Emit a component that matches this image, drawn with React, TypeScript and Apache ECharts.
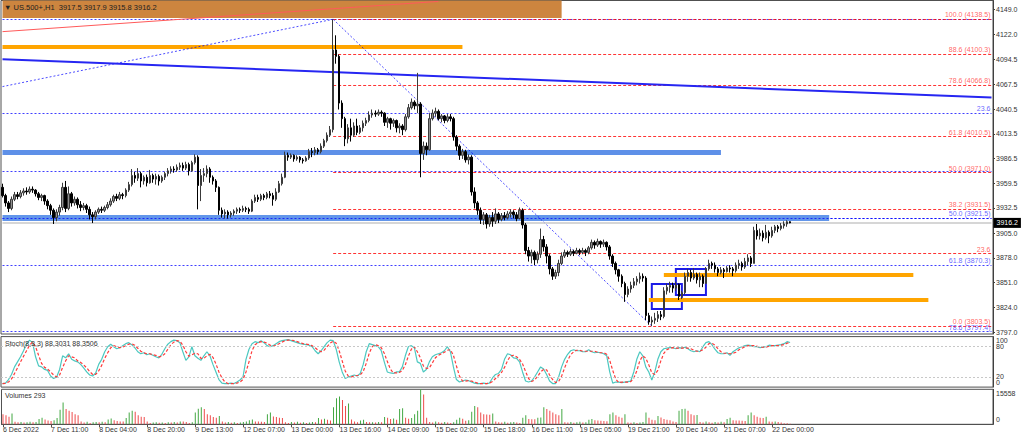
import React, { useEffect, useRef } from 'react';
import * as echarts from 'echarts';

const FONT = '"Liberation Sans", Arial, sans-serif';

const tickLabels = ['6 Dec 2022', '7 Dec 11:00', '8 Dec 04:00', '8 Dec 20:00', '9 Dec 13:00', '12 Dec 07:00', '13 Dec 00:00', '13 Dec 16:00', '14 Dec 09:00', '15 Dec 02:00', '15 Dec 18:00', '16 Dec 11:00', '19 Dec 05:00', '19 Dec 21:00', '20 Dec 14:00', '21 Dec 07:00', '22 Dec 00:00'];
const SLOT_COUNT = 330;
const LABEL_EVERY = 16;

const priceTicks = [4149.0, 4122.0, 4094.5, 4067.5, 4040.5, 4013.5, 3986.5, 3959.5, 3932.5, 3905.0, 3878.0, 3851.0, 3824.0, 3797.0];
const stochTicks = [100, 80, 20, 0];
const volumeTicks = [15558, 0];

const firstOpen = 3955;
const closes = [3946, 3938, 3932, 3942, 3947, 3945, 3949, 3951, 3950, 3953, 3952, 3948, 3944, 3946, 3940, 3935, 3930, 3922, 3928, 3933,
  3955, 3932, 3948, 3938, 3942, 3936, 3933, 3935, 3931, 3925, 3923, 3928, 3931, 3930, 3933, 3936, 3940, 3945, 3943, 3947,
  3946, 3952, 3958, 3968, 3965, 3970, 3962, 3966, 3960, 3968, 3964, 3967, 3962, 3966, 3970, 3973, 3975, 3974, 3977, 3979,
  3976, 3980, 3973, 3982, 3988, 3957, 3968, 3970, 3975, 3966, 3962, 3955, 3930, 3926, 3928, 3925, 3927, 3929, 3931, 3930,
  3932, 3931, 3929, 3940, 3944, 3942, 3946, 3944, 3948, 3946, 3942, 3950, 3959, 3966, 3990, 3988, 3990, 3986, 3988, 3985,
  3984, 3987, 3994, 3993, 3996, 3994, 4000, 4006, 4012, 4018, 4105, 4098, 4047, 4030, 4008, 4020, 4012, 4022, 4015, 4020,
  4025, 4028, 4034, 4036, 4035, 4037, 4036, 4026, 4030, 4025, 4028, 4020, 4022, 4018, 4032, 4042, 4048, 4044, 4046, 3992,
  4000, 3996, 4030, 4036, 4038, 4030, 4033, 4028, 4032, 4030, 4010, 4000, 3990, 3994, 3985, 3988, 3950, 3938, 3930, 3920,
  3925, 3915, 3922, 3918, 3926, 3920, 3924, 3922, 3926, 3928, 3925, 3921, 3930, 3914, 3886, 3880, 3884, 3876, 3882, 3898,
  3890, 3880, 3866, 3858, 3862, 3872, 3880, 3884, 3882, 3885, 3883, 3886, 3884, 3886, 3884, 3889, 3895, 3892, 3896, 3893,
  3895, 3890, 3880, 3872, 3865, 3858, 3850, 3838, 3844, 3848, 3852, 3855, 3858, 3856, 3815, 3808, 3810, 3812, 3816, 3814,
  3842, 3846, 3848, 3845, 3849, 3836, 3840, 3858, 3862, 3856, 3860, 3854, 3858, 3850, 3866, 3872, 3870, 3866, 3862, 3865,
  3863, 3867, 3866, 3864, 3870, 3872, 3868, 3874, 3878, 3872, 3908, 3902, 3905, 3900, 3906, 3902, 3908, 3912, 3910, 3913,
  3915, 3917.5, 3916.2];
const lows = [3944, 3934, 3928, 3930, 3940, 3942, 3943, 3946, 3947, 3948, 3949, 3945, 3941, 3940, 3936, 3931, 3925, 3915, 3918, 3924,
  3930, 3928, 3930, 3934, 3935, 3932, 3929, 3930, 3927, 3920, 3916, 3920, 3926, 3927, 3928, 3931, 3934, 3938, 3940, 3941,
  3942, 3944, 3950, 3956, 3960, 3962, 3955, 3958, 3956, 3959, 3960, 3958, 3957, 3960, 3963, 3967, 3970, 3971, 3972, 3974,
  3973, 3974, 3968, 3972, 3980, 3931, 3940, 3961, 3966, 3960, 3958, 3950, 3925, 3922, 3921, 3921, 3922, 3924, 3926, 3927,
  3928, 3928, 3926, 3928, 3938, 3939, 3940, 3941, 3942, 3943, 3935, 3940, 3949, 3957, 3965, 3984, 3986, 3983, 3984, 3982,
  3981, 3983, 3985, 3988, 3990, 3991, 3992, 3998, 4004, 4010, 4015, 4090, 4040, 4020, 4000, 4003, 4005, 4010, 4012, 4013,
  4016, 4022, 4026, 4031, 4032, 4033, 4032, 4022, 4020, 4018, 4021, 4015, 4014, 4012, 4016, 4030, 4040, 4040, 4036, 3966,
  3985, 3990, 3995, 4028, 4032, 4028, 4026, 4025, 4026, 4027, 4006, 3995, 3985, 3986, 3982, 3980, 3946, 3932, 3925, 3915,
  3914, 3910, 3912, 3912, 3915, 3916, 3918, 3919, 3920, 3922, 3921, 3918, 3920, 3910, 3882, 3874, 3872, 3870, 3872, 3878,
  3885, 3872, 3860, 3854, 3855, 3858, 3870, 3878, 3879, 3880, 3880, 3882, 3881, 3882, 3880, 3882, 3887, 3888, 3890, 3889,
  3890, 3886, 3876, 3868, 3860, 3852, 3846, 3830, 3835, 3840, 3845, 3848, 3850, 3852, 3810, 3805, 3803.5, 3806, 3808, 3810,
  3812, 3838, 3840, 3840, 3842, 3832, 3833, 3838, 3852, 3852, 3854, 3850, 3846, 3846, 3850, 3864, 3866, 3862, 3858, 3860,
  3856, 3862, 3862, 3858, 3862, 3866, 3864, 3866, 3870, 3868, 3872, 3898, 3898, 3896, 3898, 3894, 3900, 3905, 3906, 3908,
  3910, 3912, 3915.8];
const highs = [3959, 3948, 3940, 3945, 3950, 3950, 3952, 3954, 3955, 3956, 3956, 3953, 3950, 3948, 3947, 3942, 3937, 3932, 3931, 3936,
  3960, 3962, 3956, 3950, 3945, 3944, 3940, 3938, 3937, 3934, 3928, 3930, 3933, 3934, 3935, 3939, 3943, 3947, 3948, 3950,
  3949, 3954, 3961, 3975, 3972, 3976, 3972, 3968, 3969, 3974, 3970, 3970, 3969, 3968, 3972, 3976, 3978, 3978, 3980, 3982,
  3982, 3983, 3982, 3984, 3991, 3990, 3975, 3976, 3979, 3977, 3968, 3964, 3956, 3933, 3931, 3930, 3929, 3931, 3933, 3933,
  3935, 3934, 3933, 3942, 3947, 3947, 3948, 3948, 3950, 3951, 3949, 3954, 3962, 3970, 3994, 3993, 3992, 3991, 3990, 3989,
  3987, 3989, 3997, 3998, 3999, 3998, 4003, 4008, 4015, 4022, 4138.5, 4121, 4100, 4050, 4032, 4024, 4030, 4026, 4030, 4023,
  4028, 4031, 4038, 4040, 4039, 4040, 4039, 4037, 4032, 4031, 4030, 4029, 4025, 4024, 4035, 4046, 4052, 4050, 4080, 4048,
  4005, 4004, 4036, 4040, 4042, 4040, 4035, 4034, 4035, 4035, 4032, 4012, 4002, 3997, 3996, 3991, 3990, 3955, 3940, 3933,
  3928, 3927, 3925, 3928, 3932, 3928, 3927, 3928, 3929, 3931, 3930, 3928, 3933, 3932, 3916, 3890, 3887, 3886, 3885, 3910,
  3902, 3893, 3882, 3868, 3865, 3876, 3884, 3887, 3886, 3888, 3887, 3889, 3888, 3889, 3888, 3891, 3898, 3897, 3899, 3897,
  3898, 3896, 3892, 3882, 3874, 3866, 3860, 3852, 3847, 3852, 3856, 3858, 3862, 3861, 3858, 3818, 3814, 3818, 3820, 3820,
  3846, 3850, 3852, 3851, 3852, 3850, 3842, 3862, 3866, 3865, 3867, 3862, 3862, 3860, 3868, 3876, 3874, 3873, 3868, 3868,
  3867, 3869, 3870, 3868, 3873, 3876, 3874, 3878, 3882, 3880, 3912, 3915, 3910, 3908, 3914, 3908, 3912, 3914, 3914, 3916,
  3918, 3919, 3917.9];

const stochK = [7, 8, 15, 25, 40, 50, 60, 72, 85, 93, 88, 60, 42, 40, 35, 33, 22, 17, 20, 35,
  62, 58, 66, 55, 52, 50, 45, 38, 30, 24, 22, 28, 45, 55, 70, 80, 85, 80, 76, 78,
  82, 86, 88, 84, 78, 70, 66, 68, 64, 66, 63, 60, 58, 65, 76, 85, 90, 93, 92, 88,
  70, 53, 60, 80, 62, 57, 53, 62, 70, 62, 45, 30, 15, 8, 7, 7, 8, 7, 10, 14,
  20, 55, 75, 86, 90, 88, 92, 88, 82, 80, 82, 86, 90, 92, 93, 94, 92, 90, 88, 86,
  85, 84, 83, 80, 72, 66, 72, 80, 88, 93, 92, 75, 50, 30, 17, 20, 22, 24, 22, 27,
  45, 70, 86, 84, 82, 80, 72, 50, 30, 28, 27, 30, 30, 40, 62, 80, 82, 78, 50, 47,
  30, 35, 50, 60, 64, 66, 68, 72, 80, 70, 40, 15, 10, 12, 14, 13, 10, 8, 7, 7,
  8, 7, 8, 18, 25, 27, 35, 55, 66, 64, 58, 57, 50, 30, 12, 10, 12, 20, 30, 40,
  36, 25, 12, 7, 7, 20, 40, 55, 65, 72, 74, 72, 72, 70, 70, 74, 70, 68, 69, 68,
  66, 62, 30, 8, 10, 10, 9, 10, 11, 12, 30, 55, 70, 62, 40, 30, 14, 30, 55, 70,
  76, 77, 78, 78, 76, 78, 77, 79, 76, 72, 70, 72, 70, 80, 88, 90, 84, 75, 68, 66,
  66, 68, 63, 70, 74, 78, 80, 82, 83, 82, 80, 80, 78, 79, 80, 83, 82, 82, 83, 84,
  86, 90, 88.3031];
const stochD = [7, 7.5, 10, 16, 27, 38, 50, 61, 72, 83, 89, 80, 63, 47, 39, 36, 30, 24, 20, 24,
  39, 52, 62, 60, 58, 52, 49, 44, 38, 31, 25, 25, 32, 43, 57, 68, 78, 82, 80, 78,
  79, 82, 85, 86, 83, 77, 71, 68, 66, 66, 64, 63, 60, 61, 66, 75, 84, 89, 92, 91,
  83, 70, 61, 64, 67, 66, 57, 57, 62, 65, 59, 46, 30, 18, 10, 7, 7, 7, 8, 10,
  15, 30, 50, 72, 84, 88, 90, 89, 87, 83, 81, 83, 86, 89, 92, 93, 93, 92, 90, 88,
  86, 85, 84, 82, 78, 73, 70, 73, 80, 87, 91, 87, 72, 52, 32, 22, 20, 22, 23, 24,
  31, 47, 67, 80, 84, 82, 78, 67, 51, 36, 28, 28, 29, 33, 44, 61, 75, 80, 70, 58,
  42, 37, 38, 48, 58, 63, 66, 69, 73, 74, 63, 42, 22, 12, 12, 13, 12, 10, 8, 7,
  7, 7, 8, 11, 17, 23, 29, 39, 52, 62, 63, 60, 55, 46, 31, 17, 11, 14, 21, 30,
  35, 34, 24, 15, 9, 11, 22, 38, 53, 64, 70, 73, 73, 71, 71, 71, 71, 71, 69, 68,
  68, 65, 53, 33, 16, 9, 10, 10, 10, 11, 18, 32, 52, 62, 57, 44, 28, 25, 33, 52,
  67, 74, 77, 78, 77, 77, 77, 78, 77, 76, 73, 71, 71, 74, 79, 86, 87, 83, 76, 70,
  67, 67, 66, 67, 69, 74, 77, 80, 82, 82, 82, 81, 79, 79, 79, 81, 82, 82, 82, 83,
  84, 87, 88.3506];

const volumes = [4450, 3975, 3340, 4770, 1100, 900, 1000, 800, 950, 1100, 900, 1000, 2400, 2900, 2100, 1700, 1500, 1800, 2800, 6500,
  9700, 6800, 6000, 5500, 4500, 4000, 1300, 800, 1100, 600, 900, 1000, 900, 1100, 950, 2100, 2600, 1750, 1500, 1300,
  1200, 2800, 5200, 6000, 5600, 4000, 3400, 3300, 1300, 600, 800, 900, 700, 800, 600, 900, 750, 1000, 800, 1300,
  1200, 1000, 600, 900, 5200, 6900, 7600, 6800, 4500, 4000, 3300, 2900, 3650, 1200, 800, 1000, 700, 900, 600, 800,
  1000, 1300, 1800, 2100, 1300, 1200, 1100, 1000, 4500, 5200, 3500, 3300, 2900, 2800, 900, 600, 1000, 800, 1100, 700,
  900, 600, 800, 1000, 900, 2800, 2100, 2500, 2000, 1700, 7600, 11600, 12400, 10800, 8100, 9200, 2100, 1300, 900, 1700,
  2000, 1000, 900, 950, 800, 1000, 900, 3300, 2860, 2400, 2550, 2070, 6840, 7150, 2900, 2500, 2800, 4450, 6000, 15558,
  13200, 2860, 1000, 800, 1200, 900, 700, 1000, 800, 600, 900, 2070, 2860, 2500, 1600, 1750, 5560, 8110, 7630, 5250,
  4450, 4400, 4300, 4800, 1200, 900, 800, 1100, 700, 900, 1000, 800, 600, 2860, 3975, 2400, 2300, 2200, 2860, 3000,
  7630, 6840, 6040, 5250, 4450, 4000, 6840, 950, 800, 1000, 700, 900, 1100, 800, 900, 2070, 2400, 1750, 1700, 1600,
  1500, 1400, 4450, 5250, 3975, 3340, 2860, 4450, 800, 700, 900, 600, 800, 1000, 5250, 2860, 2070, 1800, 3660, 3000,
  2385, 2000, 1750, 1270, 1000, 6040, 6840, 6900, 6040, 4450, 3975, 4100, 1000, 800, 1200, 900, 700, 1000, 800, 1100,
  900, 2385, 2860, 1750, 1700, 1650, 1600, 1500, 3975, 5250, 4000, 3340, 2860, 2800, 3340, 1270, 1100, 1300, 1000, 800,
  500, 480, 293];

// Fibonacci levels: [label, price]
const redFibLevels: [string, number][] = [
  ['100.0 (4138.5)', 4138.5], ['88.6 (4100.3)', 4100.3], ['78.6 (4066.8)', 4066.8], ['61.8 (4010.5)', 4010.5],
  ['50.0 (3971.0)', 3971.0], ['38.2 (3931.5)', 3931.5], ['23.6', 3882.6], ['0.0 (3803.5)', 3803.5]];
const blueFibLevels: [string, number][] = [
  ['', 4138.5], ['23.6', 4036.0], ['', 3972.7], ['50.0 (3921.5)', 3921.5], ['61.8 (3870.3)', 3870.3], ['78.6 (3797.4)', 3797.4]];

const lastPrice = 3916.2;
const titleText = '▼ US.500+,H1  3917.5 3917.9 3915.8 3916.2';
const stochTitle = 'Stoch(8,3,3) 88.3031 88.3506';
const volumeTitle = 'Volumes 293';

const RED_LINE = '#FF0000';
const RED_TEXT = '#FF3C3C';
const BLUE_DOT = '#0000FF';
const BLUE_TEXT = '#3030FF';

function seg(x1: number, p1: number, x2: number, p2: number, lineStyle: any, label?: any) {
  return [
    { coord: [x1, p1], lineStyle, label: label || { show: false } },
    { coord: [x2, p2] },
  ];
}

function fibLabel(text: string, color: string) {
  if (!text) return { show: false };
  return {
    show: true, position: 'insideEndTop', formatter: text, color, fontSize: 7, fontFamily: FONT, distance: [1, 1],
  };
}

export default function App() {
  const ref = useRef<HTMLDivElement>(null);
  useEffect(() => {
    if (!ref.current) return;
    const chart = echarts.init(ref.current, undefined, { renderer: 'svg', width: 1024, height: 440 });
    const slots = Array.from({ length: SLOT_COUNT }, (_, i) => String(i));
    const candleData = closes.map((c, i) => [i === 0 ? firstOpen : closes[i - 1], c, lows[i], highs[i]]);
    const volData = volumes.map((v, i) => ({
      value: v,
      itemStyle: { color: i > 0 && v > volumes[i - 1] ? '#43A843' : '#EE4B4B' },
    }));
    const lastIdx = SLOT_COUNT - 1;

    const markLines: any[] = [];
    blueFibLevels.forEach(([t, p]) => {
      markLines.push(seg(0, p, lastIdx, p, { color: BLUE_DOT, width: 1, type: [2, 2], opacity: 0.75 }, fibLabel(t, BLUE_TEXT)));
    });
    redFibLevels.forEach(([t, p]) => {
      markLines.push(seg(110, p, lastIdx, p, { color: RED_LINE, width: 1, type: [3, 2], opacity: 0.8 }, fibLabel(t, RED_TEXT)));
    });
    // bands and drawn lines
    markLines.push(seg(0, 4108.3, 153, 4108.3, { color: '#FFA500', width: 4, type: 'solid' }));
    markLines.push(seg(0, 3993.1, 239, 3993.1, { color: '#5E90E8', width: 5, type: 'solid' }));
    markLines.push(seg(0, 3921.5, 275, 3921.5, { color: '#6296EA', width: 6, type: 'solid' }));
    markLines.push(seg(0, 3921.5, lastIdx, 3921.5, { color: BLUE_DOT, width: 1, type: [2, 2], opacity: 0.75 }));
    markLines.push(seg(220, 3859.1, 303, 3859.1, { color: '#FFA500', width: 4, type: 'solid' }));
    markLines.push(seg(215, 3832.0, 308, 3832.0, { color: '#FFA500', width: 4, type: 'solid' }));
    // trend lines
    markLines.push(seg(0, 4065.0, 110, 4138.5, { color: BLUE_DOT, width: 1, type: [2, 2], opacity: 0.7 }));
    markLines.push(seg(110, 4138.5, 216, 3803.5, { color: BLUE_DOT, width: 1, type: [2, 2], opacity: 0.7 }));
    markLines.push(seg(0, 4125.0, 145, 4158.0, { color: '#FF5A5A', width: 1, type: 'solid' }));
    markLines.push(seg(0, 4094.8, lastIdx, 4053.0, { color: '#2626F2', width: 2, type: 'solid' }));
    // bid line
    markLines.push(seg(0, lastPrice, lastIdx, lastPrice, { color: '#C8C8C8', width: 1.5, type: 'solid' }, {
      show: true, position: 'end', formatter: lastPrice.toFixed(1), color: '#fff', backgroundColor: '#000',
      fontSize: 7, fontFamily: FONT, padding: [2, 3, 1, 3], distance: 2,
    }));

    const gridBase = { left: 1, right: 31, show: true, borderColor: '#505050', borderWidth: 1 };
    const hiddenX = (gi: number) => ({ type: 'category', gridIndex: gi, data: slots, boundaryGap: true, show: false });
    const labelInterval = (idx: number) => idx % LABEL_EVERY === 0 && idx / LABEL_EVERY < tickLabels.length;
    const plainY = (gi: number, min: number, max: number) => ({
      type: 'value', gridIndex: gi, position: 'right', min, max,
      splitLine: { show: false }, axisTick: { show: false }, axisLabel: { show: false },
      axisLine: { show: true, lineStyle: { color: '#404040' } },
    });

    const baseGraphic: any[] = [
      { id: 'ttl', type: 'text', x: 4, y: 7.5, z: 100, style: { text: titleText, fill: '#222', font: '7.5px ' + FONT, verticalAlign: 'middle' } },
      { id: 'stt', type: 'text', x: 5, y: 343.5, z: 100, style: { text: stochTitle, fill: '#333', font: '7px ' + FONT, verticalAlign: 'middle' } },
      { id: 'vtt', type: 'text', x: 5, y: 395.5, z: 100, style: { text: volumeTitle, fill: '#333', font: '7px ' + FONT, verticalAlign: 'middle' } },
    ];

    const option: any = {
      animation: false,
      backgroundColor: '#ffffff',
      textStyle: { fontFamily: FONT },
      grid: [
        { ...gridBase, top: 0.5, height: 333.5 },
        { ...gridBase, top: 336.6, height: 50.5 },
        { ...gridBase, top: 389.3, height: 35 },
      ],
      xAxis: [
        hiddenX(0),
        hiddenX(1),
        {
          type: 'category', gridIndex: 2, data: slots, boundaryGap: true,
          axisLine: { show: true, lineStyle: { color: '#505050' } },
          axisTick: { show: true, interval: labelInterval, alignWithLabel: true, length: 3, lineStyle: { color: '#505050' } },
          axisLabel: {
            interval: labelInterval, formatter: (_v: string, idx: number) => tickLabels[idx / LABEL_EVERY] || '',
            align: 'left', fontSize: 7, color: '#333', margin: 2, fontFamily: FONT,
          },
          splitLine: { show: false },
        },
      ],
      yAxis: [
        {
          type: 'value', gridIndex: 0, position: 'right', min: 3794.9, max: 4159.0, scale: true,
          splitLine: { show: false },
          axisLine: { show: true, lineStyle: { color: '#404040' } },
          axisTick: { show: true, length: 2, customValues: priceTicks, lineStyle: { color: '#404040' } },
          axisLabel: { customValues: priceTicks, formatter: (v: number) => v.toFixed(1), fontSize: 7, color: '#333', margin: 3, fontFamily: FONT },
        },
        plainY(1, 0, 100),
        plainY(2, 0, 15558),
      ],
      graphic: baseGraphic,
      series: [
        {
          type: 'candlestick', xAxisIndex: 0, yAxisIndex: 0, data: candleData, barWidth: 2,
          itemStyle: { color: '#8E8E8E', color0: '#000000', borderColor: '#3A3A3A', borderColor0: '#000000', borderWidth: 1 },
          markLine: { z: 1, silent: true, symbol: ['none', 'none'], animation: false, data: markLines },
          markArea: {
            z: 0.5, silent: true, animation: false,
            data: [
              [{ coord: [0, 4139.9], itemStyle: { color: '#CD853F' } }, { coord: [186, 4159.0] }],
              [{ coord: [216, 3849.5], itemStyle: { color: 'rgba(0,0,0,0)', borderColor: '#1C1CE6', borderWidth: 2 } }, { coord: [226, 3822.2] }],
              [{ coord: [224, 3865.9], itemStyle: { color: 'rgba(0,0,0,0)', borderColor: '#1C1CE6', borderWidth: 2 } }, { coord: [234, 3837.5] }],
            ],
          },
        },
        {
          type: 'line', xAxisIndex: 1, yAxisIndex: 1, data: stochK, showSymbol: false, symbol: 'none',
          lineStyle: { color: '#4CC8C0', width: 1.2 },
          markLine: {
            silent: true, symbol: ['none', 'none'], animation: false, label: { show: false },
            lineStyle: { color: '#C8C8C8', width: 1, type: [2, 2] },
            data: [{ yAxis: 80 }, { yAxis: 20 }],
          },
        },
        {
          type: 'line', xAxisIndex: 1, yAxisIndex: 1, data: stochD, showSymbol: false, symbol: 'none',
          lineStyle: { color: '#FF3A3A', width: 1.2, type: [3, 2] },
        },
        {
          type: 'bar', xAxisIndex: 2, yAxisIndex: 2, data: volData, barWidth: 1,
        },
      ],
    };
    chart.setOption(option);

    // side labels of the indicator panels, placed through the panels' own value scales
    const labelX = chart.getWidth() - 31 + 3;
    const sideTexts: any[] = [];
    const addSide = (axisIndex: number, ticks: number[], min: number, max: number, idp: string) => {
      ticks.forEach((v, k) => {
        const py = chart.convertToPixel({ yAxisIndex: axisIndex }, v) as number;
        const shift = v === max ? 3.7 : v === min ? -4.8 : -0.6;
        sideTexts.push({
          id: idp + k, type: 'text', x: labelX, y: py + shift, z: 100,
          style: { text: String(v), fill: '#333', font: '7px ' + FONT, verticalAlign: 'middle' },
        });
      });
    };
    addSide(1, stochTicks, 0, 100, 'st');
    addSide(2, volumeTicks, 0, 15558, 'vo');
    chart.setOption({ graphic: [...baseGraphic, ...sideTexts] });

    return () => chart.dispose();
  }, []);
  return <div ref={ref} style={{ position: 'fixed', left: 0, top: 0, width: 1024, height: 440, background: '#fff' }} />;
}
